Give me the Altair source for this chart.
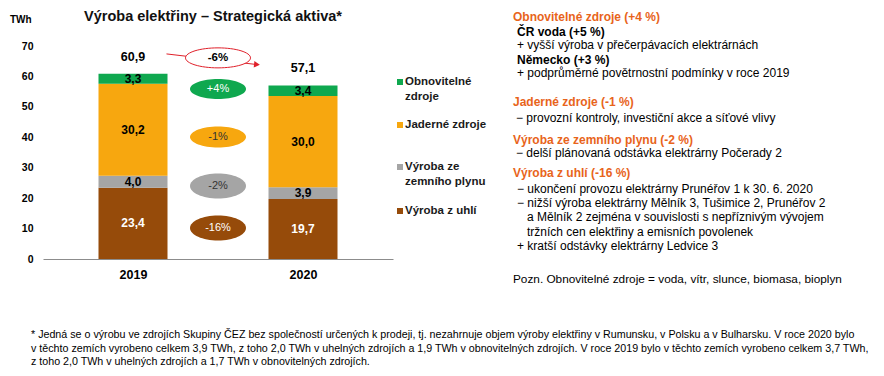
import altair as alt
import pandas as pd

FONT = "Liberation Sans"

# ---------------- data ----------------
years = ["2019", "2020"]
sources = ["Výroba z uhlí", "Výroba ze zemního plynu", "Jaderné zdroje", "Obnovitelné zdroje"]
coal = [23.4, 19.7]
gas = [4.0, 3.9]
nuclear = [30.2, 30.0]
renewables = [3.3, 3.4]
totals = [60.9, 57.1]
changes = ["-16%", "-2%", "-1%", "+4%"]
total_change = "-6%"
y_ticks = [0, 10, 20, 30, 40, 50, 60, 70]

colors = ["#964B0A", "#A5A5A5", "#F7A70F", "#0FA84F"]
value_text_colors = ["white", "black", "black", "black"]
change_text_colors = ["white", "#333333", "#333333", "white"]
RED = "#E0202A"
ORANGE = "#E8641B"

legend_lines = [["Výroba z uhlí"], ["Výroba ze", "zemního plynu"], ["Jaderné zdroje"], ["Obnovitelné", "zdroje"]]

panel_heads = ["Obnovitelné zdroje (+4 %)", "Jaderné zdroje (-1 %)",
               "Výroba ze zemního plynu (-2 %)", "Výroba z uhlí (-16 %)"]
panel_sub = ["ČR voda (+5 %)", "Německo (+3 %)"]
panel_lines = [
    "+ vyšší výroba v přečerpávacích elektrárnách",
    "+ podprůměrné povětrnostní podmínky v roce 2019",
    "− provozní kontroly, investiční akce a síťové vlivy",
    "− delší plánovaná odstávka elektrárny Počerady 2",
    "− ukončení provozu elektrárny Prunéřov 1 k 30. 6. 2020",
    "− nižší výroba elektrárny Mělník 3, Tušimice 2, Prunéřov 2",
    "a Mělník 2 zejména v souvislosti s nepříznivým vývojem",
    "tržních cen elektřiny a emisních povolenek",
    "+ kratší odstávky elektrárny Ledvice 3",
]
note = "Pozn. Obnovitelné zdroje = voda, vítr, slunce, biomasa, bioplyn"
footnote = [
    "* Jedná se o výrobu ve zdrojích Skupiny ČEZ bez společností určených k prodeji, tj. nezahrnuje objem výroby elektřiny v Rumunsku, v Polsku a v Bulharsku. V roce 2020 bylo",
    "v těchto zemích vyrobeno celkem 3,9 TWh, z toho 2,0 TWh v uhelných zdrojích a 1,9 TWh v obnovitelných zdrojích. V roce 2019 bylo v těchto zemích vyrobeno celkem 3,7 TWh,",
    "z toho 2,0 TWh v uhelných zdrojích a 1,7 TWh v obnovitelných zdrojích.",
]

# ---------------- layout ----------------
PL, PT, PW, PH = 43, 46, 350, 213
change_y = [10.2, 24.0, 40.1, 55.9]       # ellipse centres (data units)
change_h = [25, 25, 21, 20]               # ellipse heights in px
total_change_pos = (1.0, 66.1)
arrow_pts = [(0.697, 67.4), (1.229, 63.9)]


def fmt(v):
    return f"{v:.1f}".replace(".", ",")


def ellipse(ratio):
    k = 0.5523
    r = ratio
    return (f"M-1,0C-1,{-k*r:.4f},{-k:.4f},{-r:.4f},0,{-r:.4f}"
            f"C{k:.4f},{-r:.4f},1,{-k*r:.4f},1,0"
            f"C1,{k*r:.4f},{k:.4f},{r:.4f},0,{r:.4f}"
            f"C{-k:.4f},{r:.4f},-1,{k*r:.4f},-1,0Z")


series = [coal, gas, nuclear, renewables]
rows = []
for i, yr in enumerate(years):
    base = 0.0
    for s, vals in enumerate(series):
        v = vals[i]
        rows.append({"year": yr, "xpos": i + 0.5, "source": sources[s], "y0": base,
                     "y1": base + v, "mid": base + v / 2, "label": fmt(v),
                     "color": colors[s], "tcolor": value_text_colors[s]})
        base += v
bars_df = pd.DataFrame(rows)

tot_df = pd.DataFrame({"xpos": [i + 0.5 for i in range(len(years))],
                       "total": totals, "label": [fmt(t) for t in totals]})

chg_df = pd.DataFrame({"x": [1.0] * 4, "y": change_y, "label": changes, "color": colors,
                       "tcolor": change_text_colors,
                       "shape": [ellipse(h / 56) for h in change_h]})

xscale = alt.Scale(domain=[0, 2], nice=False, zero=False)
yscale = alt.Scale(domain=[0, 70], nice=False)

label_expr = f"datum.value < 1 ? '{years[0]}' : '{years[1]}'"

xaxis = alt.Axis(values=[0.5, 1.5], labelExpr=label_expr, title=None, ticks=False,
                 grid=False, domainColor="#8c8c8c", domainWidth=1, labelPadding=9,
                 labelFont=FONT, labelFontSize=12.5, labelFontWeight="bold",
                 labelColor="black", labelOverlap=False, labelFlush=False)
yaxis = alt.Axis(values=y_ticks, title=None, domain=False, ticks=False, grid=False,
                 labelPadding=10, labelFont=FONT, labelFontSize=10.5,
                 labelFontWeight="bold", labelColor="black",
                 labelOverlap=False, labelFlush=False)


def X(field):
    return alt.X(field, type="quantitative", scale=xscale, axis=xaxis)


def Y(field):
    return alt.Y(field, type="quantitative", scale=yscale, axis=yaxis)


bars = alt.Chart(bars_df).mark_bar(size=69).encode(
    x=X("xpos"), y=Y("y0"), y2="y1:Q",
    color=alt.Color("color:N", scale=None),
)

bar_labels = alt.Chart(bars_df).mark_text(font=FONT, fontSize=12, fontWeight="bold",
                                          baseline="middle").encode(
    x=X("xpos"), y=Y("mid"), text="label:N",
    color=alt.Color("tcolor:N", scale=None),
)

tot_labels = alt.Chart(tot_df).mark_text(font=FONT, fontSize=12.5, fontWeight="bold",
                                         baseline="middle", dy=-17, color="black").encode(
    x=X("xpos"), y=Y("total"), text="label:N",
)

ellipses = alt.Chart(chg_df).mark_point(filled=True, size=56 * 56, opacity=1).encode(
    x=X("x"), y=Y("y"),
    color=alt.Color("color:N", scale=None),
    shape=alt.Shape("shape:N", scale=None),
)
ell_text = alt.Chart(chg_df).mark_text(font=FONT, fontSize=11, baseline="middle").encode(
    x=X("x"), y=Y("y"), text="label:N",
    color=alt.Color("tcolor:N", scale=None),
)

arrow_df = pd.DataFrame({"x": [p[0] for p in arrow_pts], "y": [p[1] for p in arrow_pts]})
arrow_line = alt.Chart(arrow_df).mark_line(color=RED, strokeWidth=1).encode(
    x=X("x"), y=Y("y"),
)
head_df = arrow_df.tail(1)
arrow_head = alt.Chart(head_df).mark_point(shape="triangle-right", filled=True, color=RED,
                                           size=45, angle=6, opacity=1).encode(
    x=X("x"), y=Y("y"),
)
tc_df = pd.DataFrame({"x": [total_change_pos[0]], "y": [total_change_pos[1]], "label": [total_change]})
tc_ell = alt.Chart(tc_df).mark_point(shape=ellipse(20 / 65), size=65 * 65, fill="white",
                                     stroke=RED, strokeWidth=1, opacity=1,
                                     fillOpacity=1).encode(
    x=X("x"), y=Y("y"),
)
tc_text = alt.Chart(tc_df).mark_text(font=FONT, fontSize=11.5, fontWeight="bold",
                                     baseline="middle", color="black").encode(
    x=X("x"), y=Y("y"), text="label:N",
)

one = pd.DataFrame({"a": [0]})


def txt(s, Xp, Yp, size=12, weight="normal", color="black", align="left"):
    return alt.Chart(one).mark_text(font=FONT, fontSize=size, fontWeight=weight, color=color,
                                    align=align, baseline="middle").encode(
        x=alt.value(Xp - PL), y=alt.value(Yp - PT), text=alt.value(s))


def square(color, Xp, Yp):
    return alt.Chart(one).mark_square(size=36, color=color, opacity=1).encode(
        x=alt.value(Xp - PL), y=alt.value(Yp - PT))


texts = []
texts.append(txt("Výroba elektřiny – Strategická aktiva*", 213, 17, size=14.5, weight="bold",
                 color="#111111", align="center"))
texts.append(txt("TWh", 10, 20, size=10, weight="bold"))

# legend (top to bottom: renewables, nuclear, gas, coal)
legend_y = [211, 167, 125, 82]
for s in range(4):
    texts.append(square(colors[s], 400, legend_y[s]))
    for j, line in enumerate(legend_lines[s]):
        texts.append(txt(line, 405, legend_y[s] + 15 * j, size=11.5, weight="bold",
                         color="#1a1a1a"))

# right panel
texts.append(txt(panel_heads[0], 513, 17, weight="bold", color=ORANGE))
texts.append(txt(panel_sub[0], 517, 32, weight="bold"))
texts.append(txt(panel_lines[0], 517, 45))
texts.append(txt(panel_sub[1], 517, 60, weight="bold"))
texts.append(txt(panel_lines[1], 517, 73))
texts.append(txt(panel_heads[1], 513, 102, weight="bold", color=ORANGE))
texts.append(txt(panel_lines[2], 516, 118))
texts.append(txt(panel_heads[2], 513, 140, weight="bold", color=ORANGE))
texts.append(txt(panel_lines[3], 516, 153))
texts.append(txt(panel_heads[3], 513, 173, weight="bold", color=ORANGE))
texts.append(txt(panel_lines[4], 517, 189))
texts.append(txt(panel_lines[5], 517, 203))
texts.append(txt(panel_lines[6], 527, 217))
texts.append(txt(panel_lines[7], 527, 232))
texts.append(txt(panel_lines[8], 517, 246))
texts.append(txt(note, 513, 279, size=11.8))

for j, line in enumerate(footnote):
    texts.append(txt(line, 31, 335 + 13.5 * j, size=10.7))

chart = alt.layer(
    bars, bar_labels, tot_labels, ellipses, ell_text,
    arrow_line, arrow_head, tc_ell, tc_text, *texts
).properties(
    width=PW, height=PH,
    padding={"left": PL, "top": PT, "right": 884 - PL - PW, "bottom": 376 - PT - PH},
    autosize=alt.AutoSizeParams(type="none"),
    background="white",
).configure_view(stroke=None)

chart.save("out.html", embed_options={"renderer": "svg", "actions": False})
